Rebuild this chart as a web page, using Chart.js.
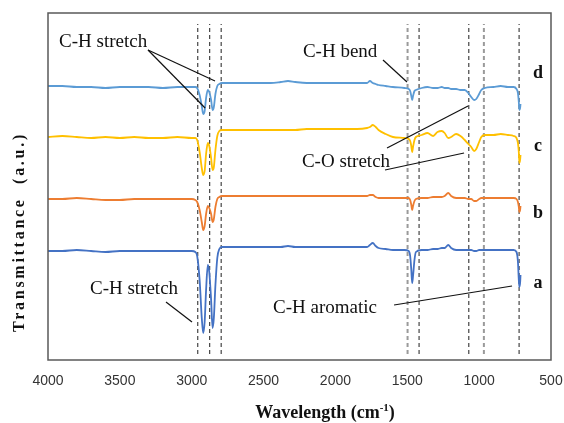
<!DOCTYPE html>
<html>
<head>
<meta charset="utf-8">
<script src="https://cdn.jsdelivr.net/npm/chart.js@4/dist/chart.umd.min.js"></script>
<style>
html,body{margin:0;padding:0;background:#fff;}
#wrap{width:564px;height:423px;}
</style>
</head>
<body>
<div id="wrap"><canvas id="c" width="564" height="423"></canvas></div>
<script>
// Wavenumbers (cm-1) shared by all spectra
const wavenumbers = [4000,3900,3800,3700,3600,3500,3400,3300,3200,3100,
  3000,2975,2962,2945,2930,2920,2910,2900,2888,2878,
  2865,2855,2846,2835,2822,2808,2790,2600,2450,2380,
  2330,2280,2200,2000,1850,1780,1760,1740,1720,1700,
  1650,1600,1520,1490,1480,1472,1466,1460,1450,1440,
  1400,1360,1320,1290,1260,1240,1215,1195,1160,1130,
  1100,1075,1055,1035,1020,1000,985,960,900,850,
  800,760,740,730,724,720,715,712];

// Transmittance (a.u., offset spectra)
const seriesA = [109,109,110,109,108,109,109,109,109,109,
  109,108,104,80,42,27,38,70,95,88,
  60,32,42,75,102,111,113,113,113,113,
  114,113,113,113,113,113,115,117,114,112,
  111,110,110,109,104,90,77,84,100,108,
  110,110,111,111,112,112,115,112,110,110,
  110,110,110,109,109,110,110,110,110,110,
  110,110,108,98,80,73,77,85];
const seriesB = [161,161,162,161,160,160,161,161,161,161,
  161,160,158,150,138,130,134,146,154,152,
  146,138,141,153,161,163,164,164,164,164,
  164,164,164,164,164,164,165,165,163,162,
  162,162,162,162,160,155,150,154,159,161,
  162,162,163,163,163,164,167,164,162,162,
  162,161,161,159,159,161,162,162,162,162,
  162,162,161,158,153,148,150,154];
const seriesC = [223,224,223,222,223,222,223,222,222,223,
  222,222,220,208,192,185,189,206,217,214,
  202,190,193,210,224,229,230,230,230,230,
  230,230,231,231,231,232,233,235,233,230,
  226,223,222,221,219,214,208,213,220,223,
  225,227,224,228,229,227,222,223,226,224,
  220,216,213,209,211,218,223,225,225,226,
  225,224,222,217,208,197,200,205];
const seriesD = [274,274,273,273,272,273,273,273,272,273,
  273,273,272,265,254,246,249,262,270,268,
  260,250,253,266,274,276,277,277,277,278,
  279,278,277,277,277,277,279,277,276,275,
  274,273,272,271,269,264,260,264,269,270,
  272,273,272,272,273,272,272,271,271,270,
  270,267,263,260,261,266,270,272,273,274,
  273,273,271,267,258,250,252,256];

const seriesNames = ['a','b','c','d'];
const seriesColors = ['#4472C4','#ED7D31','#FFC000','#5B9BD5'];
const seriesLabelValue = [77,147,214,287];
const seriesLabelWave = 590;

// Reference band positions (cm-1)
const bandLines = [2958,2875,2795,1498,1418,1072,967,722];
const bandGrey = [false,false,false,true,false,false,true,false];
const bandTop = 336, bandBottom = 6;

const xTicks = [4000,3500,3000,2500,2000,1500,1000,500];

// Annotations: text, anchor (wavenumber, value)
const noteTexts = ['C-H stretch','C-H bend','C-O stretch','C-H stretch','C-H aromatic'];
const noteWave = [3923,2226,2233,3708,2434];
const noteValue = [313,303,193,66,47];
// Leader lines: [w1, v1, w2, v2]
const leaders = [
  [3304,310,2907,252],
  [3304,310,2838,279],
  [1669,300,1502,278],
  [1641,212,1077,254],
  [1655,190,1105,207],
  [3179,58,2998,38],
  [1592,55,771,74]
];

const datasets = [];
bandLines.forEach((w,i)=>{
  datasets.push({
    data:[{x:w,y:bandBottom},{x:w,y:bandTop}],
    borderColor: bandGrey[i] ? '#9a9a9a' : '#333',
    borderWidth: bandGrey[i] ? 2 : 1.1,
    borderDash: [4,3],
    pointRadius:0, order:3
  });
});
[seriesA,seriesB,seriesC,seriesD].forEach((s,k)=>{
  datasets.push({
    label: seriesNames[k],
    data: wavenumbers.map((w,i)=>({x:w,y:s[i]})),
    borderColor: seriesColors[k],
    borderWidth: 1.8,
    pointRadius:0,
    cubicInterpolationMode:'monotone',
    order:2
  });
});
leaders.forEach(l=>{
  datasets.push({
    data:[{x:l[0],y:l[1]},{x:l[2],y:l[3]}],
    borderColor:'#111', borderWidth:1.2, pointRadius:0, order:1
  });
});

const decor = {
  id:'decor',
  afterDraw(chart){
    const ctx = chart.ctx, ca = chart.chartArea;
    const xs = chart.scales.x, ys = chart.scales.y;
    ctx.save();
    // frame
    ctx.strokeStyle = '#595959';
    ctx.lineWidth = 1.5;
    ctx.strokeRect(ca.left, ca.top, ca.right-ca.left, ca.bottom-ca.top);
    // annotation texts
    ctx.fillStyle = '#111';
    ctx.font = '19px "Liberation Serif"';
    ctx.textAlign = 'left';
    ctx.textBaseline = 'alphabetic';
    noteTexts.forEach((t,i)=>{
      ctx.fillText(t, xs.getPixelForValue(noteWave[i]), ys.getPixelForValue(noteValue[i]));
    });
    // series labels
    ctx.font = 'bold 18px "Liberation Serif"';
    ctx.textAlign = 'center';
    ctx.textBaseline = 'middle';
    seriesNames.forEach((n,i)=>{
      ctx.fillText(n, xs.getPixelForValue(seriesLabelWave), ys.getPixelForValue(seriesLabelValue[i]));
    });
    // x title with superscript
    const cx = 325, by = 418;
    ctx.textAlign = 'left';
    ctx.textBaseline = 'alphabetic';
    const p1 = 'Wavelength (cm', p2 = '-1', p3 = ')';
    ctx.font = 'bold 18px "Liberation Serif"';
    const w1 = ctx.measureText(p1).width, w3 = ctx.measureText(p3).width;
    ctx.font = 'bold 11px "Liberation Serif"';
    const w2 = ctx.measureText(p2).width;
    let sx = cx - (w1+w2+w3)/2;
    ctx.font = 'bold 18px "Liberation Serif"';
    ctx.fillText(p1, sx, by);
    ctx.font = 'bold 11px "Liberation Serif"';
    ctx.fillText(p2, sx+w1, by-7);
    ctx.font = 'bold 18px "Liberation Serif"';
    ctx.fillText(p3, sx+w1+w2, by);
    // y title
    ctx.translate(20, 232);
    ctx.rotate(-Math.PI/2);
    ctx.font = 'bold 16px "Liberation Serif"';
    ctx.textAlign = 'center';
    ctx.textBaseline = 'middle';
    const yt = 'Transmittance  (a.u.)';
    const w0 = ctx.measureText(yt).width;
    if ('letterSpacing' in ctx) {
      ctx.letterSpacing = Math.max(0,(200-w0)/yt.length).toFixed(2)+'px';
    }
    ctx.fillText(yt, 0, 0);
    ctx.restore();
  }
};

new Chart(document.getElementById('c'), {
  type:'line',
  data:{datasets},
  options:{
    responsive:false,
    animation:false,
    events:[],
    layout:{padding:{left:48,right:13,top:13,bottom:0}},
    plugins:{legend:{display:false}, tooltip:{enabled:false}},
    scales:{
      x:{
        type:'linear', reverse:true, min:500, max:4000,
        afterBuildTicks(s){ s.ticks = xTicks.map(v=>({value:v})); },
        ticks:{font:{family:'Liberation Sans',size:14}, color:'#333', padding:0, maxRotation:0, autoSkip:false,
          callback:(v)=>String(v)},
        grid:{display:false, drawTicks:true, tickLength:13},
        border:{display:false},
        afterFit(s){ s.height = 63; }
      },
      y:{display:false, min:0, max:347}
    }
  },
  plugins:[decor]
});
</script>
</body>
</html>
